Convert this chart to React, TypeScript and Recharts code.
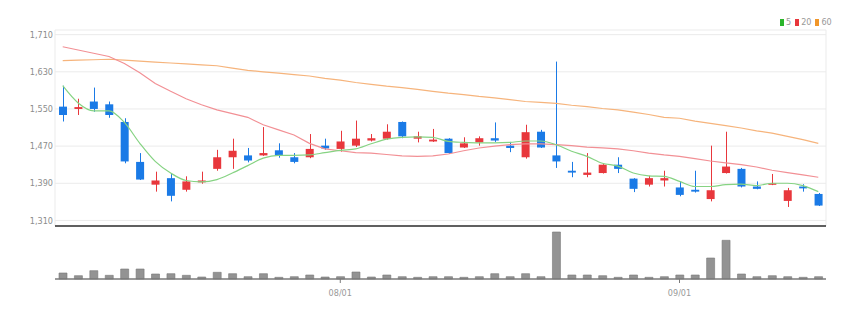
import React from 'react';
import { ComposedChart, Bar, Line, XAxis, YAxis, CartesianGrid } from 'recharts';

const dates = [
  '07/06', '07/07', '07/10', '07/11', '07/12', '07/13', '07/14', '07/17', '07/18', '07/19',
  '07/20', '07/21', '07/24', '07/25', '07/26', '07/27', '07/28', '07/31', '08/01', '08/02',
  '08/03', '08/04', '08/07', '08/08', '08/09', '08/10', '08/11', '08/14', '08/16', '08/17',
  '08/18', '08/21', '08/22', '08/23', '08/24', '08/25', '08/28', '08/29', '08/30', '08/31',
  '09/01', '09/04', '09/05', '09/06', '09/07', '09/08', '09/11', '09/12', '09/13', '09/14',
];
const opens = [
  1555, 1550, 1566, 1560, 1522, 1436, 1387, 1401, 1376, 1392,
  1421, 1446, 1450, 1450, 1461, 1446, 1446, 1471, 1464, 1471,
  1482, 1486, 1522, 1486, 1480, 1486, 1467, 1478, 1487, 1471,
  1446, 1501, 1450, 1417, 1408, 1412, 1430, 1400, 1387, 1396,
  1381, 1376, 1356, 1412, 1421, 1383, 1387, 1352, 1383, 1367,
];
const highs = [
  1600, 1572, 1596, 1566, 1530, 1455, 1415, 1410, 1405, 1415,
  1462, 1486, 1466, 1511, 1476, 1455, 1496, 1486, 1503, 1525,
  1496, 1517, 1523, 1501, 1507, 1487, 1489, 1491, 1521, 1479,
  1516, 1505, 1652, 1436, 1455, 1431, 1446, 1401, 1406, 1417,
  1394, 1417, 1471, 1501, 1423, 1394, 1410, 1380, 1388, 1369,
];
const lows = [
  1523, 1537, 1544, 1531, 1433, 1397, 1372, 1351, 1372, 1389,
  1417, 1421, 1435, 1449, 1445, 1433, 1444, 1462, 1458, 1468,
  1480, 1484, 1487, 1478, 1479, 1453, 1466, 1471, 1479, 1457,
  1443, 1466, 1423, 1403, 1403, 1411, 1412, 1371, 1383, 1383,
  1362, 1370, 1351, 1411, 1381, 1377, 1386, 1339, 1372, 1341,
];
const closes = [
  1537, 1554, 1550, 1537, 1437, 1398, 1396, 1363, 1394, 1396,
  1446, 1460, 1439, 1455, 1450, 1436, 1464, 1465, 1480, 1486,
  1487, 1501, 1491, 1491, 1484, 1455, 1476, 1487, 1482, 1466,
  1500, 1467, 1437, 1413, 1413, 1430, 1421, 1378, 1401, 1401,
  1365, 1372, 1375, 1426, 1383, 1378, 1390, 1375, 1379, 1342,
];
const volumes = [
  60, 33, 83, 37, 100, 100, 50, 53, 37, 20,
  67, 53, 23, 53, 17, 23, 40, 20, 23, 70,
  20, 40, 23, 17, 23, 23, 17, 23, 53, 23,
  53, 23, 470, 40, 40, 33, 17, 40, 17, 23,
  40, 40, 210, 387, 50, 23, 33, 23, 17, 23,
];
const ma5 = [
  1600, 1563, 1546, 1546, 1521, 1476, 1437, 1412, 1396, 1393,
  1398, 1412, 1428, 1444, 1450, 1450, 1451, 1456, 1461, 1464,
  1475, 1485, 1489, 1490, 1489, 1480, 1478, 1477, 1477, 1478,
  1481, 1481, 1473, 1459, 1448, 1433, 1427, 1412, 1406, 1405,
  1394, 1383, 1383, 1387, 1388, 1385, 1390, 1390, 1385, 1372,
];
const ma20 = [
  1684, 1677, 1670, 1663, 1648, 1628, 1605, 1588, 1572, 1559,
  1548, 1540, 1532, 1516, 1505, 1494, 1476, 1464, 1460, 1456,
  1455, 1452, 1449, 1448, 1449, 1453, 1460, 1466, 1470, 1473,
  1475, 1475, 1473, 1471, 1468, 1466, 1464, 1460, 1455, 1451,
  1448, 1443, 1438, 1434, 1430, 1425, 1418, 1413, 1408, 1403,
];
const ma60 = [
  1654, 1655, 1656, 1657, 1655, 1653, 1651, 1649, 1647, 1645,
  1643, 1638, 1633, 1630, 1627, 1624, 1621, 1616, 1612, 1607,
  1603, 1599, 1596, 1592, 1588, 1584, 1581, 1577, 1574, 1570,
  1566, 1564, 1562, 1558, 1555, 1551, 1548, 1543, 1538, 1532,
  1530, 1524, 1519, 1514, 1509, 1503, 1498, 1491, 1484, 1476,
];
const priceTicks = [1310, 1390, 1470, 1550, 1630, 1710];
const dateTicks = ['08/01', '09/01'];

const UP = '#e8373c';
const DOWN = '#1a7ae6';
const C_MA5 = '#86d383';
const C_MA20 = '#f29095';
const C_MA60 = '#f6b47c';
const FONT = '"Liberation Sans Narrow", "DejaVu Sans Condensed", "Roboto", sans-serif';

const data = dates.map((d, i) => ({
  date: d,
  open: opens[i],
  high: highs[i],
  low: lows[i],
  close: closes[i],
  volume: volumes[i],
  ma5: ma5[i],
  ma20: ma20[i],
  ma60: ma60[i],
}));

const Candle = (props: any) => {
  const { x, y, width, height, payload } = props;
  if (!payload || height == null) return null;
  const { open, close, high, low } = payload;
  const color = close >= open ? UP : DOWN;
  const ratio = height / (high - low);
  const top = y + (high - Math.max(open, close)) * ratio;
  const bot = y + (high - Math.min(open, close)) * ratio;
  const cx = Math.round(x + width / 2) + 0.5;
  return (
    <g>
      <line x1={cx} x2={cx} y1={y} y2={y + height} stroke={color} strokeWidth={1} />
      <rect x={x} y={top} width={width} height={Math.max(bot - top, 1.5)} fill={color} />
    </g>
  );
};

const fmt = (v: number) => v.toLocaleString('en-US');

const legendItems = [
  { label: '5', color: '#2bb52b' },
  { label: '20', color: '#e8373c' },
  { label: '60', color: '#f0962a' },
];

export default function App() {
  return (
    <div style={{ position: 'absolute', left: 0, top: 0, width: 861, height: 314, background: '#fff', fontFamily: FONT }}>
      <div style={{ position: 'absolute', left: 780, top: 16, display: 'flex', alignItems: 'center', fontSize: 9, color: '#999', lineHeight: '12px' }}>
        {legendItems.map((it) => (
          <span key={it.label} style={{ display: 'flex', alignItems: 'center', marginRight: 4 }}>
            <span style={{ display: 'inline-block', width: 4, height: 7, background: it.color, marginRight: 2 }} />
            <span>{it.label}</span>
          </span>
        ))}
      </div>
      <div style={{ position: 'absolute', left: 0, top: 0 }}>
        <ComposedChart width={861} height={240} data={data} margin={{ top: 30, right: 35, bottom: 13, left: 0 }}>
          <CartesianGrid stroke="#ebebeb" strokeWidth={1} />
          <XAxis
            dataKey="date"
            ticks={dateTicks}
            tick={false}
            tickLine={false}
            height={1}
            axisLine={{ stroke: '#2e2e2e', strokeWidth: 1.5 }}
          />
          <YAxis
            domain={[1298, 1720]}
            ticks={priceTicks}
            tickFormatter={fmt}
            axisLine={false}
            tickLine={false}
            tickSize={0}
            tickMargin={2}
            width={55}
            tick={{ fontSize: 9, fill: '#8c8c8c', fontFamily: FONT }}
            allowDataOverflow
          />
          <Line type="linear" dataKey="ma60" stroke={C_MA60} strokeWidth={1.2} dot={false} isAnimationActive={false} />
          <Line type="linear" dataKey="ma20" stroke={C_MA20} strokeWidth={1.2} dot={false} isAnimationActive={false} />
          <Line type="monotone" dataKey="ma5" stroke={C_MA5} strokeWidth={1.2} dot={false} isAnimationActive={false} />
          <Bar dataKey={(d: any) => [d.low, d.high]} barSize={8} shape={<Candle />} isAnimationActive={false} />
        </ComposedChart>
      </div>
      <div style={{ position: 'absolute', left: 0, top: 226 }}>
        <ComposedChart width={861} height={88} data={data} margin={{ top: 4, right: 35, bottom: 5, left: 55 }}>
          <XAxis
            dataKey="date"
            ticks={dateTicks}
            interval={0}
            tickSize={4}
            tickMargin={7}
            height={30}
            axisLine={{ stroke: '#7a7a7a', strokeWidth: 1.5 }}
            tickLine={{ stroke: '#7a7a7a' }}
            tick={{ fontSize: 9, fill: '#999', fontFamily: FONT }}
          />
          <YAxis hide domain={[0, 490]} />
          <Bar dataKey="volume" barSize={8} fill="#939393" stroke="#777" strokeWidth={0.6} isAnimationActive={false} />
        </ComposedChart>
      </div>
    </div>
  );
}
